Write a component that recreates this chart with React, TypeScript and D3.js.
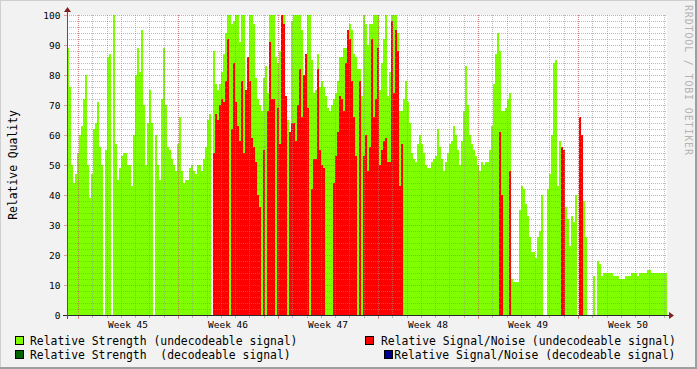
import React from "react";
import * as d3 from "d3";

const _ = null;

// Relative Strength (undecodeable signal), one value per ~3.36h sample (300 samples over 6 weeks)
const strengthUndecodeable: (number | null)[] = [
  89, 76, 50, 44, 47, 54, 60, 63, 72, 80,
  50, 39, 47, 62, 64, 71, 56, 50, _, 55,
  86, 87, _, 100, 57, 45, 49, 53, 54, 54,
  50, 50, 43, 60, 80, 89, 81, 95, 70, 50,
  64, 75, 64, _, 60, 50, 45, 72, 89, 70,
  56, 55, 52, 50, 48, 57, 66, 48, 44, 45,
  45, 49, 50, 48, 47, 50, 50, 48, 52, 56,
  65, 67, _, 88, 77, 75, 77, 81, 87, 94,
  100, 100, 97, 98, 100, 100, 91, 100, 100, 75,
  83, 100, 100, 97, 79, 72, 70, 68, 79, 83,
  74, 100, 100, 100, 86, 84, 88, 100, 100, 68,
  65, 61, 98, 100, 100, 100, 100, 95, 78, 78,
  100, 100, 85, 74, 75, 87, 76, 78, 76, 73,
  69, 68, 70, 72, 74, 78, 86, 86, 89, 89,
  88, 97, 95, 87, 86, 82, 82, 73, 100, 97,
  90, 97, 97, 100, 100, 100, 75, 84, 92, 100,
  73, 81, 100, 100, 100, 94, 68, 68, 72, 78,
  71, 64, 54, 52, 51, 57, 60, 57, 54, 50,
  49, 49, 51, 52, 53, 62, 56, 52, 48, 51,
  54, 57, 58, 63, 60, 55, 50, 58, 68, 83,
  70, 60, 57, 55, 53, 50, 48, 51, 50, 51,
  51, 55, 63, 77, 87, 94, 88, 68, 68, 69,
  72, 74, 12, 11, 11, 11, 35, 43, 42, 37,
  33, 26, 21, 21, 19, 26, 28, 40, _, _,
  42, 47, 60, 84, 85, 43, 58, 56, 44, 36,
  32, 23, 33, 31, 40, _, _, 37, 38, 26,
  _, _, _, 13, _, 18, 17, 13, 14, 14,
  14, 14, 14, 13, 13, 13, 12, 12, 12, 13,
  13, 13, 14, 14, 14, 13, 14, 14, 14, 14,
  15, 15, 14, 14, 14, 14, 14, 14, 14, 14,
];

// Relative Signal/Noise (undecodeable signal): main run starting at sample 73
const snrRunStart = 73;
const snrRun: (number | null)[] = [
  54, 67, 65, 70, 72, 71, 78,
  92, _, 62, 84, 71, 63, 58, 78, 54, 75,
  86, 78, 59, 56, 51, 40, 36, _, 55, _,
  68, 91, 72, 72, _, 69, 57, 100, 97, 73,
  _, 61, 64, 64, 58, 70, 82, 66, 80, 87,
  69, _, 42, 52, 52, 82, 55, 50, 49, _,
  _, _, _, 44, 53, 61, 73, 72, 68, 84,
  95, 92, 78, 66, 53, _, 78, _, 53, 60,
  48, 56, 92, 66, 72, 89, 50, 55, 58, 59,
  51, 51, 98, 74, 95, 88, 43, 57,
];
// isolated later spikes: [sample index, value]
const snrSpikes: [number, number][] = [
  [216, 61], [217, 40], [221, 48], [247, 56], [248, 55], [256, 66], [257, 60],
];

const yTicks = [0, 10, 20, 30, 40, 50, 60, 70, 80, 90, 100];
const weekLabels = ["Week 45", "Week 46", "Week 47", "Week 48", "Week 49", "Week 50"];

const legendItems = [
  { label: "Relative Strength (undecodeable signal)", color: "#80ff00" },
  { label: "Relative Strength  (decodeable signal)", color: "#006400" },
  { label: "Relative Signal/Noise (undecodeable signal)", color: "#ff0000" },
  { label: "Relative Signal/Noise (decodeable signal)", color: "#000090" },
];

const W = 697;
const H = 369;
const N = strengthUndecodeable.length;
const START = new Date(2010, 10, 7, 5, 31, 12);
const END = new Date(START.getTime() + 42 * 24 * 3600 * 1000);
const STEP = (END.getTime() - START.getTime()) / N;

const snr: (number | null)[] = Array.from({ length: N }, () => null);
snrRun.forEach((v, i) => (snr[snrRunStart + i] = v));
snrSpikes.forEach(([i, v]) => (snr[i] = v));

const FONT = "'DejaVu Sans Mono', monospace";

export default function App() {
  const x = d3.scaleTime().domain([START, END]).range([67, 667]);
  const y = d3.scaleLinear().domain([0, 100]).range([315, 15]);

  const bars = (vals: (number | null)[], color: string) =>
    vals.map((v, i) => {
      if (v == null) return null;
      const x0 = Math.round(x(new Date(START.getTime() + i * STEP)));
      const x1 = Math.round(x(new Date(START.getTime() + (i + 1) * STEP)));
      const yt = Math.round(y(v));
      return (
        <rect key={color + i} x={x0} y={yt} width={x1 - x0} height={y(0) - yt} fill={color} />
      );
    });

  const days = d3.timeDay.range(START, END);
  const mondays = d3.timeMonday.range(START, END);
  const minorY = d3.range(0, 101, 2);
  const gridMinor = "rgba(143,143,143,0.6)";
  const gridMajor = "rgba(222,79,79,0.55)";

  return (
    <svg
      width={W}
      height={H}
      style={{ position: "absolute", left: 0, top: 0, display: "block" }}
      shapeRendering="crispEdges"
    >
      <rect x={0} y={0} width={W} height={H} fill="#f2f2f2" />
      {/* frame shading */}
      <rect x={0} y={0} width={W} height={1} fill="#cfcfcf" />
      <rect x={0} y={0} width={1} height={H} fill="#cfcfcf" />
      <rect x={0} y={H - 2} width={W} height={2} fill="#9e9e9e" />
      <rect x={W - 2} y={0} width={2} height={H} fill="#9e9e9e" />

      {/* canvas */}
      <rect x={67} y={15} width={600} height={300} fill="#ffffff" />

      {bars(strengthUndecodeable, "#80ff00")}
      {bars(snr, "#ff0000")}

      {/* grid */}
      <g strokeDasharray="1,1" strokeWidth={1}>
        {minorY.filter((v) => v % 10 !== 0).map((v) => (
          <line key={"hy" + v} x1={67} x2={667} y1={y(v) + 0.5} y2={y(v) + 0.5} stroke={gridMinor} />
        ))}
        {days.map((d, i) => (
          <line key={"vd" + i} x1={Math.round(x(d)) + 0.5} x2={Math.round(x(d)) + 0.5} y1={15} y2={315} stroke={gridMinor} />
        ))}
        {yTicks.filter((v) => v > 0).map((v) => (
          <line key={"my" + v} x1={67} x2={667} y1={y(v) + 0.5} y2={y(v) + 0.5} stroke={gridMajor} />
        ))}
        {mondays.map((d, i) => (
          <line key={"vm" + i} x1={Math.round(x(d)) + 0.5} x2={Math.round(x(d)) + 0.5} y1={15} y2={315} stroke={gridMajor} />
        ))}
      </g>

      {/* ticks */}
      {days.map((d, i) => (
        <line key={"td" + i} x1={Math.round(x(d)) + 0.5} x2={Math.round(x(d)) + 0.5} y1={315} y2={318} stroke={gridMinor} />
      ))}
      {mondays.map((d, i) => (
        <line key={"tm" + i} x1={Math.round(x(d)) + 0.5} x2={Math.round(x(d)) + 0.5} y1={315} y2={319} stroke={gridMajor} />
      ))}
      {yTicks.map((v) => (
        <line key={"ty" + v} x1={64} x2={67} y1={y(v) + 0.5} y2={y(v) + 0.5} stroke={gridMajor} />
      ))}

      {/* axes */}
      <line x1={63} x2={670} y1={315.5} y2={315.5} stroke="#2a2a2a" />
      <line x1={67.5} x2={67.5} y1={319} y2={11} stroke="#555" />
      <polygon points="669,312 669,319 674,315.5" fill="#802020" shapeRendering="auto" />
      <polygon points="64,12 71,12 67.5,7" fill="#802020" shapeRendering="auto" />

      {/* y labels */}
      <g fontFamily={FONT} fontSize={9.5} fill="#000">
        {yTicks.map((v) => (
          <text key={"yl" + v} x={60.5} y={y(v) + 3.5} textAnchor="end">
            {v}
          </text>
        ))}
        {mondays.map((d, i) => (
          <text
            key={"wl" + i}
            x={x(new Date(d.getTime() + 3.5 * 24 * 3600 * 1000))}
            y={328}
            textAnchor="middle"
          >
            {weekLabels[i] ?? "Week " + d3.timeFormat("%V")(d)}
          </text>
        ))}
      </g>

      {/* y axis title */}
      <text
        transform="translate(16.5,165) rotate(-90)"
        fontFamily={FONT}
        fontSize={11.4}
        textAnchor="middle"
        fill="#000"
      >
        Relative Quality
      </text>

      {/* watermark */}
      <text
        transform="translate(685,5) rotate(90)"
        fontFamily={FONT}
        fontSize={10}
        fill="#b4b4b4"
        textLength={150}
        lengthAdjust="spacing"
      >
        RRDTOOL / TOBI OETIKER
      </text>

      {/* legend */}
      <g fontFamily={FONT} fontSize={11.4} fill="#000" style={{ whiteSpace: "pre" }}>
        {[
          { it: legendItems[0], bx: 15, tx: 30, row: 0 },
          { it: legendItems[1], bx: 15, tx: 30, row: 1 },
          { it: legendItems[2], bx: 365, tx: 381, row: 0 },
          { it: legendItems[3], bx: 384.3, tx: 394.3, row: 1 },
        ].map(({ it, bx, tx, row }, i) => (
          <g key={"lg" + i}>
            <rect
              x={Math.round(bx) + 0.5}
              y={336.5 + row * 14.2}
              width={8}
              height={8}
              fill={it.color}
              stroke="#000"
            />
            <text x={tx} y={344.5 + row * 14} style={{ whiteSpace: "pre" }}>
              {it.label}
            </text>
          </g>
        ))}
      </g>
    </svg>
  );
}
